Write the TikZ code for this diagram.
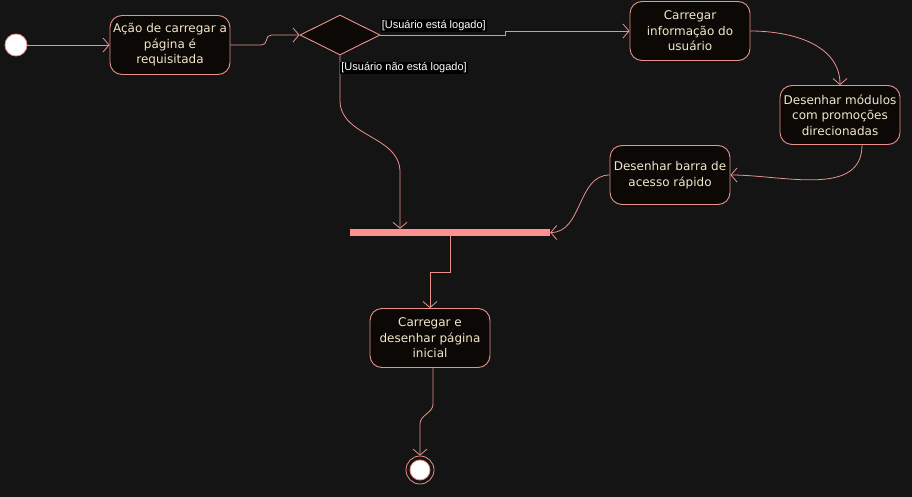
\documentclass[tikz,border=0pt]{standalone}
\usepackage{fontspec}
\setmainfont{DejaVu Sans}
\newfontfamily\guardfont{Liberation Sans}
\usepackage{xcolor}
\usepackage{tikz}
\usetikzlibrary{shapes}
\usetikzlibrary{positioning, arrows.meta}

\definecolor{bgdark}{HTML}{141414}
\definecolor{linepink}{HTML}{E8928B}
\definecolor{boxfill}{HTML}{0B0806}
\definecolor{boxtext}{HTML}{F2E8CC}
\definecolor{barpink}{HTML}{FF9090}

\tikzset{
	activity/.style={draw=linepink, fill=boxfill, rounded corners=12pt, line width=0.9pt,
		minimum width=120pt, minimum height=59pt, inner sep=1pt, align=center,
		text=boxtext, font=\fontsize{12}{15.5}\selectfont},
	flow/.style={draw=linepink, line width=0.8pt, -{Straight Barb[length=6pt,width=14pt]}},
	guard/.style={font=\guardfont\fontsize{11}{12}\selectfont, text=white, fill=black, inner sep=1pt}
}

\begin{document}
\begin{tikzpicture}[x=1pt, y=1pt]
			\useasboundingbox (0,0) rectangle (912,-497);
			\fill[bgdark] (0,0) rectangle (912,-497);
			\node[circle, draw=linepink, fill=white, line width=0.8pt, minimum size=22pt] (inicio) at (16,-45) {};
			\node[activity] (acao) at (170,-45) {Ação de carregar a\\página é\\requisitada};
			\node[diamond, draw=linepink, fill=boxfill, line width=0.9pt, minimum width=80pt, minimum height=40pt, inner sep=0pt] (decisao) at (340,-35) {};
			\node[activity] (info) at (690,-31) {Carregar\\informação do\\usuário};
			\node[activity] (modulos) at (840,-115) {Desenhar módulos\\com promoções\\direcionadas};
			\node[activity] (barra) at (670,-175) {Desenhar barra de\\acesso rápido};
			\node[fill=barpink, minimum width=200pt, minimum height=7pt, inner sep=0pt] (sync) at (450,-232.5) {};
			\node[activity] (pagina) at (430,-338) {Carregar e\\desenhar página\\inicial};
			\node[circle, draw=linepink, fill=bgdark, line width=0.8pt, minimum size=28pt] (fim) at (420,-470) {};
			\node[circle, draw=linepink, fill=white, line width=0.8pt, minimum size=20pt] (fimin) at (fim) {};
			\draw[flow] (inicio) -- (acao);
			\draw[flow, rounded corners=5pt] (acao.east) -- ++(36,0) |- (decisao.west);
			\draw[flow] (decisao.east) -- ++(125,0) node[guard, pos=0, anchor=south west, yshift=3pt]{[Usuário está logado]} |- (info.west);
			\draw[flow] (info.east) to[out=0, in=90] (modulos.north);
			\draw[flow] ([xshift=22pt]modulos.south) to[out=-90, in=0] (barra.east);
			\draw[flow] (barra.west) to[out=180, in=0] (sync.east);
			\draw[flow] (decisao.south) -- ++(0,-45) node[guard, pos=0.28, anchor=west]{[Usuário não está logado]} to[out=-90, in=90] (400,-172) -- (sync.north -| 400,0);
			\draw[flow] (sync.south) -- ++(0,-36) -| (pagina.north);
			\draw[flow] ([xshift=3pt]pagina.south) -- ++(0,-36) to[out=-90, in=90] (420,-424) -- (fim.north);
		\end{tikzpicture}
\end{document}
